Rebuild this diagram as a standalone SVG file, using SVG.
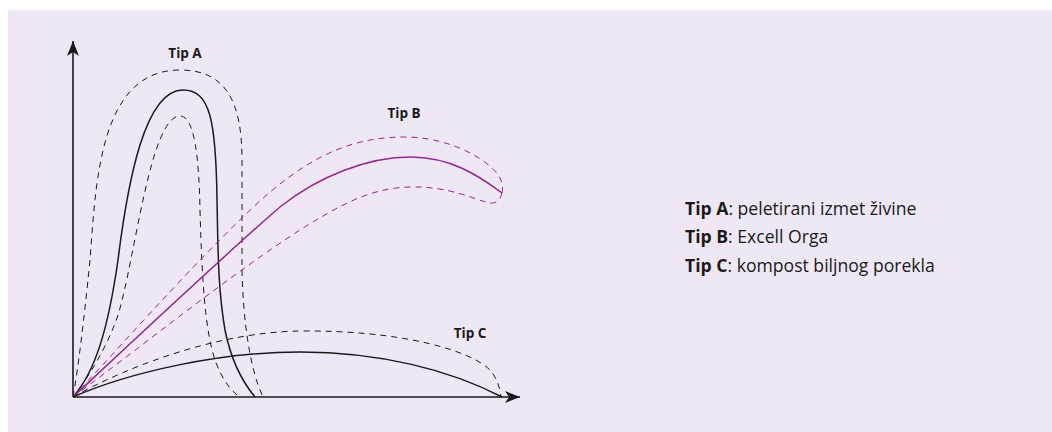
<svg xmlns="http://www.w3.org/2000/svg" width="1052" height="432" viewBox="0 0 1052 432">
<style>
.bg{fill:#efe7f3}
.axis{stroke:#1a1a1a;stroke-width:1.6;fill:none}
.solid{stroke:#1a1a1a;stroke-width:1.5;fill:none}
.dash{stroke:#1a1a1a;stroke-width:1;fill:none;stroke-dasharray:6 5}
.psolid{stroke:#93278f;stroke-width:1.5;fill:none}
.pdash{stroke:#93278f;stroke-width:1;fill:none;stroke-dasharray:6 5}
.lbl{font-family:"Open Sans","Liberation Sans",Arial,sans-serif;font-weight:bold;font-size:13.5px;fill:#1a1a1a;text-anchor:middle}
.leg{font-family:"Open Sans","Liberation Sans",Arial,sans-serif;font-size:17.6px;fill:#1a1a1a}
.leg .b{font-weight:bold}
</style>
<defs>
<marker id="arr" viewBox="-16 -7 17 14" refX="0" refY="0" markerWidth="17" markerHeight="14" markerUnits="userSpaceOnUse" orient="auto">
<path d="M0,0 L-15,-6 L-11,0 L-15,6 Z" fill="#1a1a1a"/>
</marker>
</defs>
<rect class="bg" x="8" y="10" width="1044" height="422"/>
<g id="axes">
<line class="axis" x1="73" y1="397" x2="73" y2="41" marker-end="url(#arr)"/>
<line class="axis" x1="73" y1="397" x2="520" y2="397" marker-end="url(#arr)"/>
</g>
<g id="connectors">
<g id="tipA-curves">
<path class="dash" d="M73,397 C78,370 84,320 90,260 C96,180 100,70 180,70 C225,70 242,100 242,160 L242,270 C243,320 250,370 263,397"/>
<path class="solid" d="M73,397 C95,372 108,330 118,260 C128,180 145,90 183,90 C210,90 216,120 217,200 C218,250 218,290 225,330 C232,365 245,385 255,397"/>
<path class="dash" d="M73,397 C90,375 108,345 118,315 C135,260 150,116 180,116 C195,116 199,160 200,210 C202,280 205,330 215,360 C222,380 232,392 240,397"/>
</g>
<g id="tipB-curves">
<path class="pdash" d="M73,397 C140,325 210,245 270,192 C320,150 360,137 405,137 C450,137 490,160 500,178 C503,184 503,189 502,193"/>
<path class="psolid" d="M73,397 C150,325 230,250 280,207 C320,175 370,157 410,157 C450,157 478,175 502,193"/>
<path class="pdash" d="M73,397 C150,340 230,275 300,230 C340,205 370,188 410,187 C450,186 475,200 490,203 C497,204 501,198 502,193"/>
</g>
<g id="tipC-curves">
<path class="dash" d="M73,397 C130,365 220,332 300,331 C400,330 470,350 490,370 C497,378 500,388 501,397"/>
<path class="solid" d="M73,397 C130,372 220,352 300,352 C380,352 450,370 502,397"/>
</g>
</g>
<g id="label-tipA"><text class="lbl" x="185" y="58">Tip A</text></g>
<g id="label-tipB"><text class="lbl" x="404" y="118">Tip B</text></g>
<g id="label-tipC"><text class="lbl" x="470" y="338">Tip C</text></g>
<g id="legend">
<text class="leg" x="685" y="215"><tspan class="b">Tip A</tspan>: peletirani izmet živine</text>
<text class="leg" x="685" y="243"><tspan class="b">Tip B</tspan>: Excell Orga</text>
<text class="leg" x="685" y="272"><tspan class="b">Tip C</tspan>: kompost biljnog porekla</text>
</g>
</svg>
